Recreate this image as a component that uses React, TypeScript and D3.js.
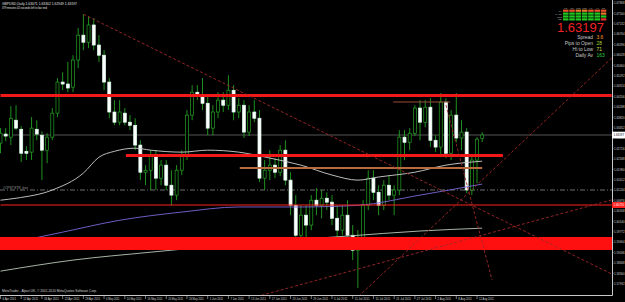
import React from "react";
import * as d3 from "d3";

// ---------- data ----------
const dates = ["6 Apr","7 Apr","8 Apr","11 Apr","12 Apr","13 Apr","14 Apr","15 Apr","18 Apr","19 Apr","20 Apr","21 Apr","22 Apr","25 Apr","26 Apr","27 Apr","28 Apr","29 Apr","2 May","3 May","4 May","5 May","6 May","9 May","10 May","11 May","12 May","13 May","16 May","17 May","18 May","19 May","20 May","23 May","24 May","25 May","26 May","27 May","30 May","31 May","1 Jun","2 Jun","3 Jun","6 Jun","7 Jun","8 Jun","9 Jun","10 Jun","13 Jun","14 Jun","15 Jun","16 Jun","17 Jun","20 Jun","21 Jun","22 Jun","23 Jun","24 Jun","27 Jun","28 Jun","29 Jun","30 Jun","1 Jul","4 Jul","5 Jul","6 Jul","7 Jul","8 Jul","11 Jul","12 Jul","13 Jul","14 Jul","15 Jul","18 Jul","19 Jul","20 Jul","21 Jul","22 Jul","25 Jul","26 Jul","27 Jul","28 Jul","29 Jul","1 Aug","2 Aug","3 Aug","4 Aug","5 Aug","8 Aug","9 Aug","10 Aug","11 Aug","12 Aug","15 Aug"];

const opens = [1.6291,1.6323,1.6312,1.6372,1.6340,1.6262,1.6259,1.6340,1.6319,1.6266,
1.6312,1.6397,1.6507,1.6500,1.6489,1.6585,1.6673,1.6648,1.6709,1.6638,
1.6602,1.6507,1.6401,1.6365,1.6397,1.6365,1.6354,1.6284,1.6188,1.6195,
1.6248,1.6167,1.6213,1.6142,1.6107,1.6195,1.6248,1.6390,1.6471,1.6461,
1.6432,1.6344,1.6401,1.6443,1.6425,1.6478,1.6401,1.6425,1.6330,1.6401,
1.6379,1.6167,1.6195,1.6213,1.6188,1.6266,1.6160,1.6071,1.5965,1.6036,
1.6001,1.6089,1.6071,1.6096,1.6082,1.6025,1.5983,1.6036,1.5965,1.5912,
1.5947,1.6071,1.6167,1.6117,1.6071,1.6142,1.6107,1.6125,1.6312,1.6294,
1.6326,1.6415,1.6365,1.6418,1.6301,1.6277,1.6436,1.6255,1.6390,1.6309,
1.6330,1.6125,1.6231,1.63071];

const highs = [1.6344,1.6344,1.6422,1.6425,1.6351,1.6280,1.6383,1.6372,1.6333,1.6326,
1.6415,1.6521,1.6542,1.6578,1.6602,1.6698,1.6747,1.6740,1.6733,1.6673,
1.6620,1.6521,1.6443,1.6443,1.6415,1.6390,1.6379,1.6301,1.6213,1.6266,
1.6266,1.6231,1.6231,1.6195,1.6213,1.6266,1.6408,1.6496,1.6496,1.6521,
1.6461,1.6425,1.6471,1.6471,1.6531,1.6496,1.6450,1.6443,1.6425,1.6443,
1.6408,1.6231,1.6266,1.6238,1.6284,1.6301,1.6188,1.6107,1.6071,1.6071,
1.6107,1.6132,1.6125,1.6117,1.6107,1.6071,1.6071,1.6089,1.6001,1.5983,
1.6089,1.6195,1.6195,1.6142,1.6160,1.6178,1.6142,1.6337,1.6337,1.6344,
1.6425,1.6443,1.6443,1.6450,1.6319,1.6468,1.6450,1.6408,1.6468,1.6372,
1.6344,1.6248,1.6312,1.63302];

const lows = [1.6255,1.6298,1.6284,1.6337,1.6224,1.6231,1.6231,1.6301,1.6160,1.6220,
1.6301,1.6383,1.6478,1.6471,1.6471,1.6556,1.6620,1.6627,1.6620,1.6578,
1.6478,1.6379,1.6354,1.6354,1.6354,1.6337,1.6266,1.6160,1.6142,1.6125,
1.6125,1.6142,1.6125,1.6071,1.6089,1.6178,1.6231,1.6372,1.6443,1.6408,
1.6319,1.6319,1.6379,1.6401,1.6408,1.6372,1.6379,1.6309,1.6316,1.6365,
1.6153,1.6125,1.6160,1.6167,1.6174,1.6142,1.6036,1.5930,1.5947,1.5955,
1.5983,1.6036,1.6025,1.6054,1.6001,1.5947,1.5965,1.5930,1.5877,1.5778,
1.5930,1.6054,1.6089,1.6036,1.6054,1.6089,1.6036,1.6107,1.6231,1.6266,
1.6316,1.6301,1.6347,1.6277,1.6259,1.6241,1.6238,1.6231,1.6294,1.6266,
1.6114,1.6107,1.6149,1.62949];

const closes = [1.6326,1.6316,1.6379,1.6344,1.6255,1.6255,1.6344,1.6323,1.6266,1.6312,
1.6397,1.6507,1.6500,1.6486,1.6585,1.6673,1.6648,1.6709,1.6638,1.6602,
1.6507,1.6401,1.6365,1.6401,1.6365,1.6354,1.6284,1.6188,1.6195,1.6248,
1.6167,1.6213,1.6142,1.6107,1.6195,1.6248,1.6390,1.6471,1.6461,1.6432,
1.6344,1.6401,1.6443,1.6425,1.6478,1.6401,1.6425,1.6330,1.6401,1.6379,
1.6167,1.6195,1.6213,1.6188,1.6266,1.6160,1.6071,1.5965,1.6036,1.6001,
1.6089,1.6071,1.6096,1.6082,1.6025,1.5983,1.6036,1.5965,1.5912,1.5947,
1.6071,1.6167,1.6117,1.6071,1.6142,1.6107,1.6125,1.6312,1.6294,1.6326,
1.6415,1.6365,1.6418,1.6301,1.6277,1.6436,1.6255,1.6390,1.6309,1.6330,
1.6125,1.6231,1.6305,1.63197];

const axisDates = ["6 Apr","12 Apr","18 Apr","22 Apr","28 Apr","4 May","10 May","16 May","20 May","26 May","1 Jun","7 Jun","13 Jun","17 Jun","23 Jun","29 Jun","5 Jul","11 Jul","15 Jul","21 Jul","27 Jul","2 Aug","8 Aug","12 Aug"];

const priceTicks = [1.67868,1.67500,1.67132,1.66764,1.66396,1.66028,1.65660,1.65292,1.64924,1.64556,1.64188,1.63820,1.63452,1.63084,1.62716,1.62348,1.61980,1.61612,1.61244,1.60876,1.60508,1.60140,1.59772,1.59404,1.59036,1.58668,1.58300,1.57932];

// moving averages (bar index, price)
const fastMaIdx = [0,3,10,16,19,22,26,29,35,40,46,52,58,64,69,73,80,86,93];
const fastMaVal = [1.6089,1.6096,1.6125,1.6185,1.6241,1.6262,1.6273,1.6266,1.6259,1.6266,1.6259,1.6238,1.6213,1.6178,1.6160,1.6171,1.6188,1.6213,1.6227];
const midMaIdx = [0,12,23,35,46,58,69,81,93];
const midMaVal = [1.5930,1.5976,1.6018,1.6047,1.6065,1.6065,1.6071,1.6107,1.6146];
const slowMaIdx = [0,14,29,48,67,81,93];
const slowMaVal = [1.5838,1.5877,1.5905,1.5937,1.5962,1.5980,1.5990];

// horizontal objects
const levelPrice = [1.64595, 1.62472, 1.60720, 1.64365, 1.62029];
const levelStart = [0, 24.2, 0, 75.8, 46.2];
const levelEnd = [118, 97, 118, 86.8, 93];
const bandTop = 1.59588;
const bandBottom = 1.59128;
const bidPrice = 1.63197;
const dotLinePrice = 1.61251;

// trend lines
const trendStartIdx = [16, 45.7, 68.4, 86];
const trendStartPrice = [1.6747, 1.5729, 1.5736, 1.6426];
const trendEndIdx = [118, 118, 118, 94.9];
const trendEndPrice = [1.58278, 1.6090, 1.6592, 1.5807];

// info panel
const panelCols = ["M1","M5","M15","M30","H1","H4","D1"];
const panelRows = ["MA","MACD","STO","RSI"];
const panelColors = [
  ["#e8502a","#e8502a","#e87a2a","#e87a2a","#e8502a","#e8502a","#e8502a"],
  ["#22c822","#22c822","#22c822","#22c822","#22c822","#22c822","#e87a2a"],
  ["#22c822","#22c822","#22c822","#22c822","#22c822","#22c822","#22c822"],
  ["#22c822","#22c822","#22c822","#22c822","#22c822","#22c822","#e83030"],
];
const statLabels = ["Spread","Pips to Open","Hi to Low","Daily Av"];
const statValues = ["3.6","28","71","163"];
const statColors = ["#ff9a2a","#a8d830","#d8e040","#30d040"];

const FONT = "'Liberation Sans', Arial, sans-serif";

export default function App() {
  const plotR = 612;
  const plotB = 295;
  const x = d3.scaleLinear().domain([0, 93]).range([0.5, 482.2]);
  const y = d3.scaleLinear().domain([1.575, 1.67974]).range([296, 0]);

  const maLine = (idx: number[], val: number[]) =>
    d3.line<number>()
      .x((_, k) => x(idx[k]))
      .y((_, k) => y(val[k]))
      .curve(d3.curveMonotoneX)(val) || "";

  const wick = "#22a022";
  const bodyW = 3;

  const levelColor = ["#f01818", "#f01818", "#ff2020", "#9a4a3a", "#b86b3e"];
  const levelWidth = [3, 3, 1, 1, 2];

  return (
    <svg width={625} height={302} style={{ position: "absolute", left: 0, top: 0, display: "block" }}
      fontFamily={FONT}>
      <rect x={0} y={0} width={625} height={302} fill="#000" />
      <defs>
        <clipPath id="plotClip">
          <rect x={0} y={0} width={plotR} height={plotB} />
        </clipPath>
      </defs>

      <g clipPath="url(#plotClip)">
        {/* bid line */}
        <line x1={0} x2={plotR} y1={y(bidPrice)} y2={y(bidPrice)} stroke="#555" strokeWidth={1} />
        {/* dash-dot line */}
        <line x1={0} x2={plotR} y1={y(dotLinePrice)} y2={y(dotLinePrice)} stroke="#8a8a8a" strokeWidth={0.8} strokeDasharray="5,2,1,2" />
        <text x={3} y={y(dotLinePrice) - 1.2} fontSize={3.4} fill="#9a9a9a">#CPSTSTR_bxx</text>

        {/* candles */}
        {dates.map((d, i) => {
          const o = opens[i], c = closes[i];
          const hi = Math.max(highs[i], o, c), lo = Math.min(lows[i], o, c);
          const cx = x(i);
          const top = y(Math.max(o, c));
          const h = Math.max(1, y(Math.min(o, c)) - top);
          const bull = c >= o;
          return (
            <g key={d}>
              <line x1={cx} x2={cx} y1={y(hi)} y2={y(lo)} stroke={wick} strokeWidth={0.9} />
              <rect x={cx - bodyW / 2} y={top} width={bodyW} height={h}
                fill={bull ? "#000" : "#fff"} stroke={bull ? wick : "#dfe"} strokeWidth={0.7} />
            </g>
          );
        })}

        {/* moving averages */}
        <path d={maLine(slowMaIdx, slowMaVal)} fill="none" stroke="#b8c8b8" strokeWidth={0.9} />
        <path d={maLine(midMaIdx, midMaVal)} fill="none" stroke="#7a66d8" strokeWidth={0.9} />
        <path d={maLine(fastMaIdx, fastMaVal)} fill="none" stroke="#d0d0d0" strokeWidth={0.9} />

        {/* band */}
        <rect x={0} y={y(bandTop)} width={plotR} height={y(bandBottom) - y(bandTop)} fill="#ff1010" />

        {/* levels */}
        {levelPrice.map((p, k) => (
          <line key={k} x1={x(levelStart[k])} x2={Math.min(plotR, x(levelEnd[k]))} y1={y(p)} y2={y(p)}
            stroke={levelColor[k]} strokeWidth={levelWidth[k]} />
        ))}

        {/* trend lines */}
        {trendStartIdx.map((s, k) => (
          <line key={k} x1={x(s)} y1={y(trendStartPrice[k])} x2={x(trendEndIdx[k])} y2={y(trendEndPrice[k])}
            stroke="#a02828" strokeWidth={0.9} strokeDasharray="3,2" />
        ))}
      </g>

      {/* axes */}
      <line x1={plotR + 0.5} x2={plotR + 0.5} y1={0} y2={plotB + 0.5} stroke="#c8c8c8" strokeWidth={1} />
      <line x1={0} x2={plotR + 0.5} y1={plotB + 0.5} y2={plotB + 0.5} stroke="#c8c8c8" strokeWidth={1} />
      {priceTicks.map((p) => (
        <g key={p}>
          <line x1={plotR} x2={plotR + 1.5} y1={y(p)} y2={y(p)} stroke="#c8c8c8" strokeWidth={0.6} />
          <text x={plotR + 2} y={y(p) + 1.3} fontSize={3.4} fill="#d0d0d0"
            textLength={10.5} lengthAdjust="spacingAndGlyphs">{p.toFixed(5)}</text>
        </g>
      ))}
      {/* bid label */}
      <rect x={plotR} y={y(bidPrice) - 3.3} width={13} height={6.6} fill="#fff" />
      <text x={plotR + 1.5} y={y(bidPrice) + 1.3} fontSize={3.4} fill="#000"
        textLength={10.5} lengthAdjust="spacingAndGlyphs">{bidPrice.toFixed(5)}</text>
      {/* level label */}
      <rect x={plotR} y={y(levelPrice[2]) - 3} width={13} height={6} fill="#ff2020" />
      <text x={plotR + 1.5} y={y(levelPrice[2]) + 1.3} fontSize={3.4} fill="#fff"
        textLength={10.5} lengthAdjust="spacingAndGlyphs">{levelPrice[2].toFixed(5)}</text>

      {axisDates.map((d) => {
        const i = dates.indexOf(d);
        const label = d + " 2011";
        return (
          <g key={d}>
            <line x1={x(i)} x2={x(i)} y1={plotB + 0.5} y2={plotB + 4} stroke="#c8c8c8" strokeWidth={0.6} />
            <text x={x(i) + 2} y={300.3} fontSize={3.6} fill="#d0d0d0"
              textLength={label.length * 1.35} lengthAdjust="spacingAndGlyphs">{label}</text>
          </g>
        );
      })}

      {/* header texts */}
      <text x={2} y={4.8} fontSize={3.6} fill="#e0e0e0" textLength={75} lengthAdjust="spacingAndGlyphs">
        GBPUSD,Daily  1.63071 1.63302 1.62949 1.63197
      </text>
      <text x={2} y={8.6} fontSize={3.6} fill="#e0e0e0" textLength={45} lengthAdjust="spacingAndGlyphs">
        379 minutes 42 seconds left to bar end
      </text>
      <text x={2} y={291.5} fontSize={3.6} fill="#d0d0d0" textLength={95} lengthAdjust="spacingAndGlyphs">
        MetaTrader - Alpari UK, © 2001-2010 MetaQuotes Software Corp.
      </text>

      {/* info panel */}
      {panelCols.map((c, j) => (
        <text key={c} x={563 + j * 6.3 + 2.7} y={8.8} fontSize={2.4} fill="#b0b0b0" textAnchor="middle">{c}</text>
      ))}
      {panelRows.map((r, k) => (
        <g key={r}>
          <text x={562} y={9.6 + k * 2.9 + 2.1} fontSize={2.3} fill="#b0b0b0" textAnchor="end">{r}</text>
          {panelColors[k].map((col, j) => (
            <rect key={j} x={563 + j * 6.3} y={9.6 + k * 2.9} width={5.5} height={2.2} fill={col} />
          ))}
        </g>
      ))}
      <text x={604} y={31.8} fontSize={13} fill="#ee2222" textAnchor="end" textLength={47} lengthAdjust="spacingAndGlyphs">
        {bidPrice.toFixed(5)}
      </text>
      {statLabels.map((s, k) => (
        <g key={s}>
          <text x={593} y={39.2 + k * 5.8} fontSize={4.9} fill="#c8c8c8" textAnchor="end">{s}</text>
          <text x={596.5} y={39.2 + k * 5.8} fontSize={4.9} fill={statColors[k]}>{statValues[k]}</text>
        </g>
      ))}
    </svg>
  );
}
